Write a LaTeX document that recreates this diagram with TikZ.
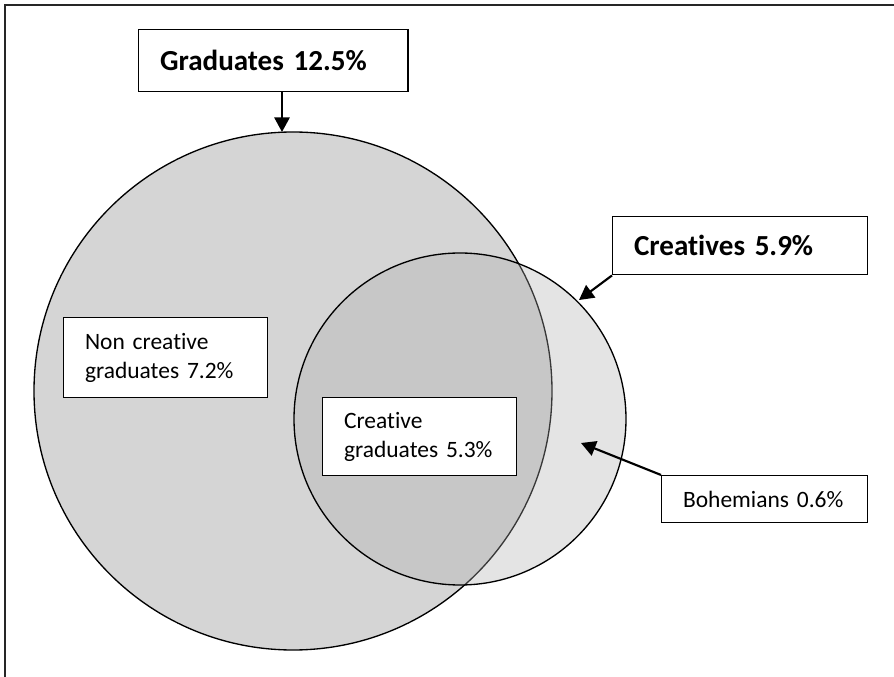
\documentclass[tikz,border=0pt]{standalone}
\usepackage{fontspec}
\setmainfont{Carlito}[Ligatures=NoCommon]
\usetikzlibrary{arrows.meta}

\begin{document}
\begin{tikzpicture}[x=0.75pt, y=-0.75pt]

% Define label box and pointer style
\tikzstyle{lbox} =[draw, line width=1.1pt, fill=white, anchor=north west,
                   inner xsep=16pt, inner ysep=0pt, align=left,
                   font=\fontsize{17.6}{21.75}\selectfont]
\tikzstyle{tbox} =[lbox, font=\fontsize{21.8}{25}\selectfont\bfseries]
\tikzstyle{pointer} =[line width=1.6pt, -{Triangle[length=11pt, width=11.5pt]}]

\useasboundingbox (0,0) rectangle (894,677);
\draw[line width=1.2pt, black!85] (5,5) rectangle (1000,800);

% graduates and creatives
\draw[line width=1pt, fill=black!16.5] (293,391) circle (259);
\draw[line width=1pt, fill=black!32, fill opacity=0.33] (460,419) circle (166);

\node[tbox, text width=170pt, minimum height=46.5pt] (grad) at (138,29) {Graduates 12.5\%};
\node[tbox, text width=159pt, minimum height=43.5pt] (creat) at (612,216) {Creatives 5.9\%};
\node[lbox, text width=121pt, minimum height=60pt] (noncreat) at (63,317) {Non creative\\graduates 7.2\%};
\node[lbox, text width=113.5pt, minimum height=58.5pt] (creatgrad) at (322,397) {Creative\\graduates 5.3\%};
\node[lbox, text width=122.5pt, minimum height=35.25pt] (bohem) at (661,475) {Bohemians 0.6\%};

\coordinate (gradtip) at (282,132);
\coordinate (creattip) at (579,300);
\coordinate (bohemtip) at (581,443);
\draw[pointer] (grad.south -| gradtip) -- (gradtip);
\draw[pointer] (creat.south west) -- (creattip);
\draw[pointer] (bohem.north west) -- (bohemtip);

\end{tikzpicture}
\end{document}
